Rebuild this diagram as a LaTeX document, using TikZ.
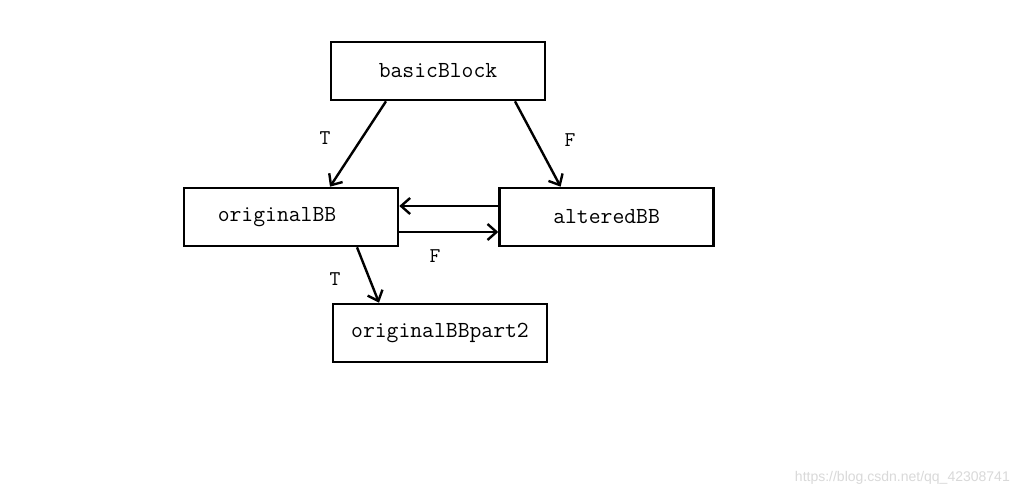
\documentclass[tikz,border=0pt]{standalone}
\usepackage{fontspec}
\newfontfamily\marcafont{Liberation Sans}
\usepackage{tikz}
\usetikzlibrary{arrows.meta,calc,positioning}
\tikzset{
  bloque/.style={
    draw=black,
    line width=2.6pt,
    minimum width=214pt,
    minimum height=58pt,
    inner sep=0pt,
    font=\fontsize{23}{27}\selectfont\ttfamily
  },
  etiqueta/.style={
    inner sep=0pt,
    font=\fontsize{21}{25}\selectfont\ttfamily
  },
  arrow/.style={
    -{Straight Barb[length=9pt,width=16pt,line width=2.4pt]},
    line width=2.4pt,
    black
  }
}
\begin{document}
\begin{tikzpicture}[x=1pt,y=-1pt]
\useasboundingbox[fill=white] (0,0) rectangle (1017,497);
\node[bloque] (bb) at (438,71) {basicBlock};
\node[bloque] (ob) at (291,217) {originalBB\hspace*{28pt}};
\node[bloque, right=99pt of ob] (ab) {alteredBB};
\node[bloque] (p2) at (440,333) {originalBBpart2};
% ramas del bloque basico
\draw[arrow] ([xshift=-52pt]bb.south) -- ([xshift=39pt]ob.north);
\draw[arrow] ([xshift=77pt]bb.south) -- ([xshift=-46pt]ab.north);
% ida y vuelta
\draw[arrow] ([yshift=11pt]ab.west) -- ([yshift=11pt]ab.west -| ob.east);
\draw[arrow] ([yshift=-15pt]ob.east) -- ([yshift=-15pt]ob.east -| ab.west);
\draw[arrow] ([xshift=66pt]ob.south) -- ([xshift=-61pt]p2.north);
\node[etiqueta] (t1) at (325,138) {T};
\node[etiqueta] (f1) at (570,140) {F};
\node[etiqueta] (f2) at (435,256) {F};
\node[etiqueta] (t2) at (335,279) {T};
\node[font=\marcafont\fontsize{14}{16}\selectfont, text=black!15, anchor=east, inner sep=0pt] (marca) at (1010,478) {https://blog.csdn.net/qq\_42308741};
\end{tikzpicture}
\end{document}
